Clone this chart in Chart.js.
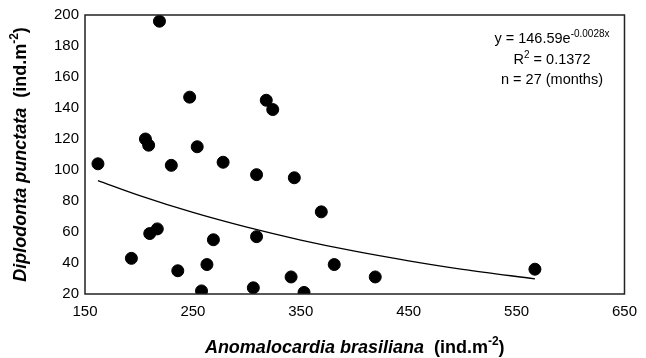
<!DOCTYPE html>
<html>
<head>
<meta charset="utf-8">
<script src="https://cdn.jsdelivr.net/npm/chart.js@4"></script>
<style>
	html, body { margin: 0; padding: 0; background: #fff; }
	#wrap { width: 646px; height: 358px; }
</style>
</head>
<body>
<div id="wrap"><canvas id="scatterChart" width="646" height="358"></canvas></div>
<script>
// monthly densities
const anomalocardia = [219, 247, 318, 324, 206, 209, 254, 162, 230, 278, 309, 344, 369, 210, 217, 193, 269, 309, 236, 263, 258, 306, 341, 353, 381, 419, 567];
const diplodonta = [196, 147, 145, 139, 120, 116, 115, 104, 103, 105, 97, 95, 73, 59, 62, 43, 55, 57, 35, 39, 22, 24, 31, 21, 39, 31, 36];

// exponential fit as drawn in the figure
const trendX = [162, 200, 250, 300, 350, 400, 450, 500, 567];
const trendY = [93.1, 83.6, 72.6, 63.1, 54.8, 47.6, 41.4, 35.9, 29.8];

const xTicks = [150, 250, 350, 450, 550, 650];
const yTicks = [20, 40, 60, 80, 100, 120, 140, 160, 180, 200];

const fontFamily = '"Liberation Sans", Arial, sans-serif';

function drawMixed(ctx, parts, x, y, align) {
	// parts: [{text, font, dy}]
	let total = 0;
	parts.forEach(p => { ctx.font = p.font; total += ctx.measureText(p.text).width; });
	let cx = align === 'center' ? x - total / 2 : x;
	parts.forEach(p => {
		ctx.font = p.font;
		ctx.fillText(p.text, cx, y + (p.dy || 0));
		cx += ctx.measureText(p.text).width;
	});
}

const extrasPlugin = {
	id: 'extras',
	afterDraw(chart) {
		const ctx = chart.ctx;
		const a = chart.chartArea;
		ctx.save();
		ctx.strokeStyle = '#222';
		ctx.lineWidth = 1.5;
		ctx.strokeRect(a.left, a.top, a.right - a.left, a.bottom - a.top);

		ctx.fillStyle = '#000';
		ctx.textAlign = 'left';
		ctx.textBaseline = 'alphabetic';

		// regression text
		const tx = 552;
		drawMixed(ctx, [
			{ text: 'y = 146.59e', font: '14.5px ' + fontFamily },
			{ text: '-0.0028x', font: '10px ' + fontFamily, dy: -6 }
		], tx, 43, 'center');
		drawMixed(ctx, [
			{ text: 'R', font: '14.5px ' + fontFamily },
			{ text: '2', font: '10px ' + fontFamily, dy: -6 },
			{ text: ' = 0.1372', font: '14.5px ' + fontFamily }
		], tx, 64, 'center');
		drawMixed(ctx, [
			{ text: 'n = 27 (months)', font: '14.5px ' + fontFamily }
		], tx, 84, 'center');

		// x axis title
		const midX = (a.left + a.right) / 2;
		drawMixed(ctx, [
			{ text: 'Anomalocardia brasiliana', font: 'italic bold 18px ' + fontFamily },
			{ text: '  (ind.m', font: 'bold 18px ' + fontFamily },
			{ text: '-2', font: 'bold 12px ' + fontFamily, dy: -8 },
			{ text: ')', font: 'bold 18px ' + fontFamily }
		], midX, 353, 'center');

		// y axis title
		const midY = (a.top + a.bottom) / 2;
		ctx.translate(26, midY);
		ctx.rotate(-Math.PI / 2);
		drawMixed(ctx, [
			{ text: 'Diplodonta punctata', font: 'italic bold 18px ' + fontFamily },
			{ text: '  (ind.m', font: 'bold 18px ' + fontFamily },
			{ text: '-2', font: 'bold 12px ' + fontFamily, dy: -8 },
			{ text: ')', font: 'bold 18px ' + fontFamily }
		], 0, 0, 'center');
		ctx.restore();
	}
};

const ctx = document.getElementById('scatterChart').getContext('2d');

new Chart(ctx, {
	type: 'scatter',
	data: {
		datasets: [{
			label: 'Monthly samples',
			data: anomalocardia.map((x, i) => ({ x: x, y: diplodonta[i] })),
			backgroundColor: '#000',
			borderColor: '#000',
			pointRadius: 6,
			pointHoverRadius: 6
		}, {
			label: 'Exponential fit',
			data: trendX.map((x, i) => ({ x: x, y: trendY[i] })),
			showLine: true,
			borderColor: '#000',
			borderWidth: 1.3,
			pointRadius: 0,
			cubicInterpolationMode: 'monotone',
			fill: false
		}]
	},
	options: {
		responsive: false,
		maintainAspectRatio: false,
		animation: false,
		layout: { padding: { top: 14, right: 21, left: 0, bottom: 0 } },
		plugins: {
			legend: { display: false },
			tooltip: { enabled: false }
		},
		scales: {
			x: {
				type: 'linear',
				min: 150,
				max: 650,
				afterBuildTicks: s => { s.ticks = xTicks.map(v => ({ value: v })); },
				afterFit: s => { s.height = 64; },
				grid: { display: false, drawTicks: false },
				border: { display: false },
				ticks: {
					color: '#000',
					padding: 9,
					font: { family: fontFamily, size: 15 }
				}
			},
			y: {
				type: 'linear',
				min: 20,
				max: 200,
				afterBuildTicks: s => { s.ticks = yTicks.map(v => ({ value: v })); },
				afterFit: s => { s.width = 85; },
				grid: { display: false, drawTicks: false },
				border: { display: false },
				ticks: {
					color: '#000',
					padding: 6,
					font: { family: fontFamily, size: 15 }
				}
			}
		}
	},
	plugins: [extrasPlugin]
});
</script>
</body>
</html>
